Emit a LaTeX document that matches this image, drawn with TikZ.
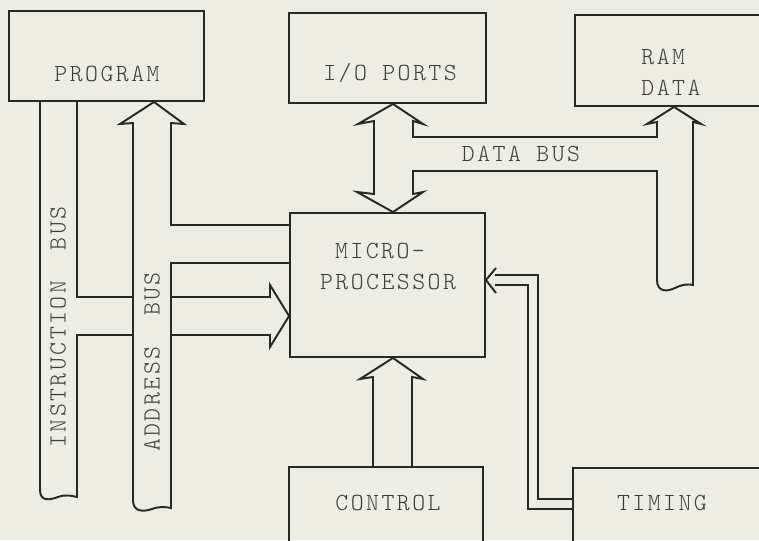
\documentclass[tikz,border=0pt]{standalone}
\usepackage{fontspec}
\usepackage{tikz}
\newfontfamily\typew{lmmonolt10-regular.otf}[LetterSpace=10]
\definecolor{paper}{RGB}{237,237,227}
\definecolor{ink}{RGB}{40,40,40}
\definecolor{typeink}{RGB}{62,62,62}

\begin{document}
\begin{tikzpicture}[x=0.02cm, y=-0.02cm,
    blk/.style={draw=ink, line width=1.1pt, inner sep=0pt},
    bus/.style={draw=ink, line width=1.1pt, line join=miter},
    lbl/.style={text=typeink, font=\typew\fontsize{14}{17.5}\selectfont, align=center, inner sep=0pt}]
    % Page
    \fill[paper, use as bounding box] (0,0) rectangle (759,540);

    % Blocks
    \node[blk, minimum width=3.9cm, minimum height=1.8cm] (prog) at (106.5,56) {};
    \node[blk, minimum width=3.94cm, minimum height=1.8cm] (io) at (387.5,58) {};
    \node[blk, minimum width=4.5cm, minimum height=1.82cm] (ram) at (687.5,60.5) {};
    \node[blk, minimum width=3.9cm, minimum height=2.88cm] (mp) at (387.5,285) {};
    \node[blk, minimum width=3.88cm, minimum height=2.26cm] (ctrl) at (386,523.5) {};
    \node[blk, minimum width=4.54cm, minimum height=2.24cm] (tim) at (686.5,524) {};

    % Block texts
    \node[lbl] (progtxt) at (107,74) {PROGRAM};
    \node[lbl] (iotxt) at (390,73) {I/O PORTS};
    \node[lbl, align=left] (ramtxt) at (671,72.5) {RAM\\DATA};
    \node[lbl, align=left] (mptxt) at (388,266.5) {\hspace*{0.3cm}MICRO-\\PROCESSOR};
    \node[lbl] (ctrltxt) at (388,503) {CONTROL};
    \node[lbl] (timtxt) at (662,503) {TIMING};

    % Bus names
    \node[lbl, rotate=90] (ibtxt) at (58,327) {INSTRUCTION~~BUS};
    \node[lbl, rotate=90] (abtxt) at (152,362) {ADDRESS~~BUS};
    \node[lbl] (dbtxt) at (521,154) {DATA BUS};

    % Data bus: I/O ports <-> microprocessor, branch to RAM
    \draw[bus] (413,137) -- (413,121) -- (423,124) -- (io.south -| 393,0) -- (358,124) -- (374,121)
        -- (374,194) -- (357,192) -- (mp.north -| 393,0) -- (423,192) -- (413,194) -- (413,171)
        -- (657,171) -- (657,280) .. controls (657,292) and (667,292) .. (675,288)
        .. controls (683,284) and (689,284) .. (693,285)
        -- (693,122) -- (701,124) -- (ram.south -| 674,0) -- (647,124) -- (657,122) -- (657,137) -- cycle;

    % Address bus
    \draw[bus] (mp.west |- 0,225) -- (171,225) -- (171,123) -- (184,124) -- (prog.south -| 154,0)
        -- (120,124) -- (133,123) -- (133,500) .. controls (133,512) and (143,512) .. (152,509)
        .. controls (160,506) and (166,507) .. (171,508) -- (171,263) -- (mp.west |- 0,263);

    % Instruction bus
    \draw[bus] (prog.south -| 40,0) -- (40,490) .. controls (40,502) and (50,500) .. (58,497)
        .. controls (66,494) and (72,496) .. (77,497) -- (77,335) -- (133,335);
    \draw[bus] (prog.south -| 77,0) -- (77,297) -- (133,297);
    \draw[bus] (171,297) -- (270,297) -- (270,285) -- (mp.west |- 0,316) -- (270,347) -- (270,335) -- (171,335);

    % Control
    \draw[bus] (ctrl.north -| 373,0) -- (373,377) -- (360,379) -- (mp.south -| 393,0) -- (423,379)
        -- (412,377) -- (ctrl.north -| 412,0);

    % Timing
    \draw[bus, double=paper, double distance=0.161cm] (tim.west |- 0,504) -| (533,280) -- (495,280);
    \draw[bus] (496,268) -- (mp.east |- 0,280) -- (496,293);
\end{tikzpicture}
\end{document}
